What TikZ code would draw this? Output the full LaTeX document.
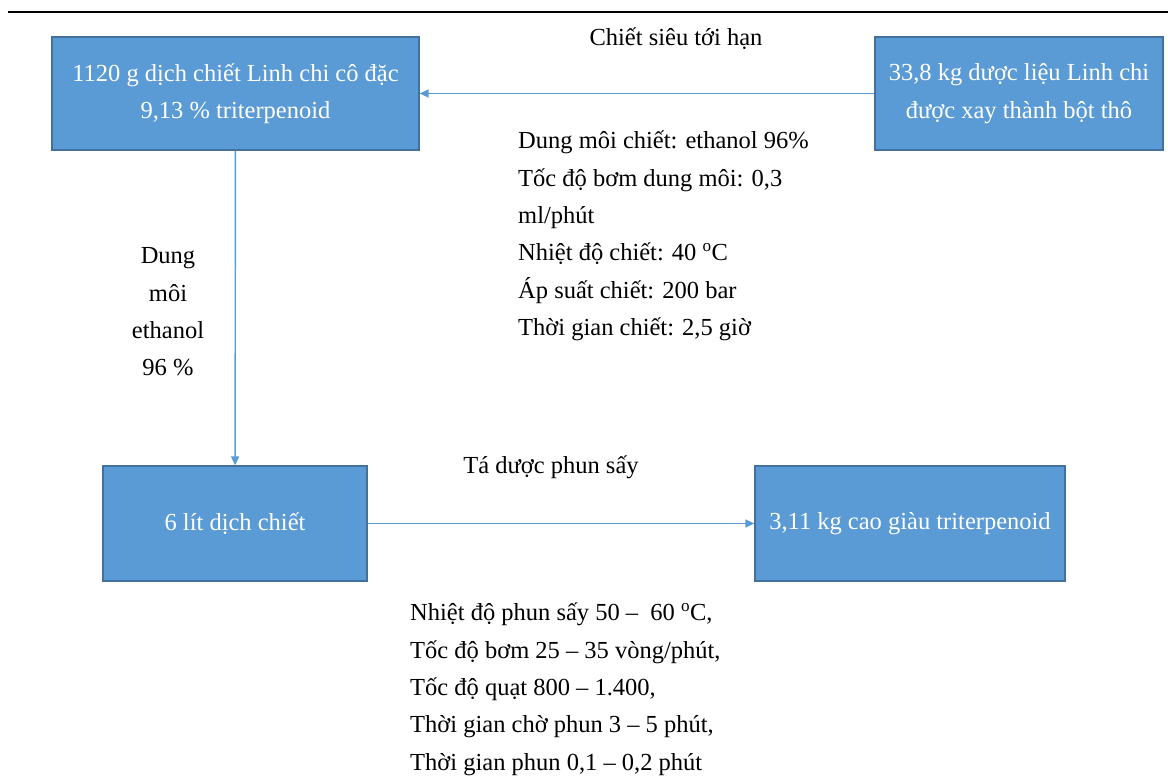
\documentclass[tikz,border=0pt]{standalone}
\usepackage{fontspec}
\setmainfont{Liberation Serif}
\usepackage{xcolor}
\usetikzlibrary{arrows.meta}
\definecolor{boxblue}{HTML}{5B9BD5}
\definecolor{boxedge}{HTML}{41719C}
\definecolor{arrowblue}{HTML}{5B9BD5}
\tikzset{
  stage/.style={draw=boxedge,line width=1.2pt,fill=boxblue,text=white,align=center,inner sep=0pt},
  flow/.style={draw=arrowblue,line width=1.4pt,-{Triangle[length=9pt,width=8pt]}},
  note/.style={align=left,inner sep=0pt,anchor=north west}
}
\begin{document}
\fontsize{24.5}{37.3}\selectfont
\begin{tikzpicture}[x=1pt,y=-1pt]
\useasboundingbox(0,0)rectangle(1168,778);
\draw[line width=2.5pt](8,12)--(1168,12);
\node[stage,minimum width=367pt,minimum height=113pt](extract)at(235.5,93.5){1120 g dịch chiết Linh chi cô đặc\\9,13 \% triterpenoid};
\node[stage,minimum width=288pt,minimum height=113pt](herb)at(1019,93.5){33,8 kg dược liệu Linh chi\\được xay thành bột thô};
\node[stage,minimum width=264pt,minimum height=115pt](liquid)at(235,523.5){6 lít dịch chiết};
\node[stage,minimum width=310pt,minimum height=115pt](powder)at(910,523.5){3,11 kg cao giàu triterpenoid};
\draw[flow](herb)--(extract);
\draw[flow](extract)--(liquid);
\draw[flow](liquid)--(powder);
\node(sfe)at(676,39){Chiết siêu tới hạn};
\node[note](sfepar)at(518,131){Dung môi chiết: ethanol 96\%\\Tốc độ bơm dung môi: 0,3\\ml/phút\\Nhiệt độ chiết: 40 \textsuperscript{o}C\\Áp suất chiết: 200 bar\\Thời gian chiết: 2,5 giờ};
\node[align=center](solvent)at(168,312){Dung\\môi\\ethanol\\96 \%};
\node(excip)at(551,467){Tá dược phun sấy};
\node[note](drypar)at(410,603){Nhiệt độ phun sấy 50 –~~60 \textsuperscript{o}C,\\Tốc độ bơm 25 – 35 vòng/phút,\\Tốc độ quạt 800 – 1.400,\\Thời gian chờ phun 3 – 5 phút,\\Thời gian phun 0,1 – 0,2 phút};
\end{tikzpicture}
\end{document}
